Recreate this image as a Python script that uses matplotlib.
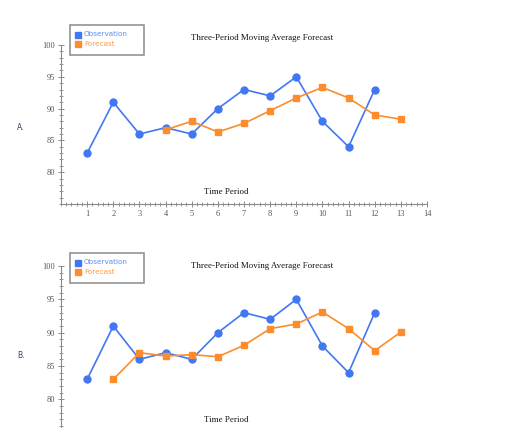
import matplotlib
matplotlib.use("Agg")
import matplotlib.pyplot as plt
from matplotlib.ticker import MultipleLocator
from matplotlib.lines import Line2D
from matplotlib.patches import Rectangle

# data
periods = [1, 2, 3, 4, 5, 6, 7, 8, 9, 10, 11, 12]
observation = [83, 91, 86, 87, 86, 90, 93, 92, 95, 88, 84, 93]

fc_a_periods = [4, 5, 6, 7, 8, 9, 10, 11, 12, 13]
forecast_a = [86.67, 88.0, 86.33, 87.67, 89.67, 91.67, 93.33, 91.67, 89.0, 88.33]

fc_b_periods = [2, 3, 4, 5, 6, 7, 8, 9, 10, 11, 12, 13]
forecast_b = [83.0, 87.0, 86.5, 86.7, 86.4, 88.1, 90.6, 91.3, 93.1, 90.6, 87.3, 90.1]

legend_labels = ["Observation", "Forecast"]

BLUE = "#4178f2"
ORANGE = "#fd8c2c"
W, H = 508, 428


def px(x, y):
    return x / W, 1 - y / H


def legend_box(top):
    x0, y0 = px(70, top + 30)
    fig.add_artist(Rectangle((x0, y0), 74 / W, 30 / H, transform=fig.transFigure,
                             fill=False, ec="#8a8a8a", lw=1.1))
    for i, (lab, col, tcol) in enumerate(zip(legend_labels, [BLUE, ORANGE], ["#5b8cf5", "#fd9a45"])):
        yy = top + 9.5 + 9.6 * i
        fig.add_artist(Line2D([77.5 / W], [1 - yy / H], transform=fig.transFigure,
                              ls="", marker="s", ms=5, color=col))
        fig.text(*px(84, yy), lab, ha="left", va="center", fontsize=5.2, color=tcol,
                 family="DejaVu Sans")


def panel(rect, fc_x, fc_y, label, top, xlabels=True):
    ax = fig.add_axes(rect)
    ax.plot(periods, observation, "-o", color=BLUE, ms=5, lw=1.2, zorder=3)
    ax.plot(fc_x, fc_y, "-s", color=ORANGE, ms=5, lw=1.2, zorder=3)
    ax.set_xlim(0, 14)
    ax.set_ylim(75, 100)
    for s in ["top", "right"]:
        ax.spines[s].set_visible(False)
    for s in ["left", "bottom"]:
        ax.spines[s].set_color("#8a8a8a")
        ax.spines[s].set_linewidth(0.8)
    ax.xaxis.set_minor_locator(MultipleLocator(0.2))
    ax.yaxis.set_minor_locator(MultipleLocator(1))
    ax.set_xticks(range(1, 15))
    ax.set_yticks([80, 85, 90, 95, 100])
    ax.tick_params(which="major", direction="inout", length=5, width=0.7,
                   color="#8a8a8a", labelsize=6, labelcolor="#555555", pad=1.5)
    ax.tick_params(which="minor", direction="inout", length=3, width=0.6, color="#8a8a8a")
    ax.tick_params(axis="x", labelbottom=xlabels)
    for t in ax.get_xticklabels() + ax.get_yticklabels():
        t.set_fontfamily("Liberation Serif")
    ax.patch.set_alpha(0)

    fig.text(*px(262, top + 13), "Three-Period Moving Average Forecast", ha="center", va="center",
             fontsize=6.4, family="Liberation Serif", color="#111111")
    fig.text(*px(17, top + 103), label, ha="left", va="center", fontsize=5.5,
             family="DejaVu Sans", color="#334466")
    legend_box(top)
    return ax


fig = plt.figure(figsize=(W / 100, H / 100), dpi=100)

panel([61 / W, 224 / H, 366 / W, 159 / H], fc_a_periods, forecast_a, "A.", 25)
fig.text(*px(226, 192), "Time Period", ha="center", va="center", fontsize=6.4,
         family="Liberation Serif", color="#111111")

panel([61 / W, -4.7 / H, 366 / W, 166.7 / H], fc_b_periods, forecast_b, "B.", 253, xlabels=False)
fig.text(*px(226, 420), "Time Period", ha="center", va="center", fontsize=6.4,
         family="Liberation Serif", color="#111111")

fig.savefig("out.png", dpi=100)
